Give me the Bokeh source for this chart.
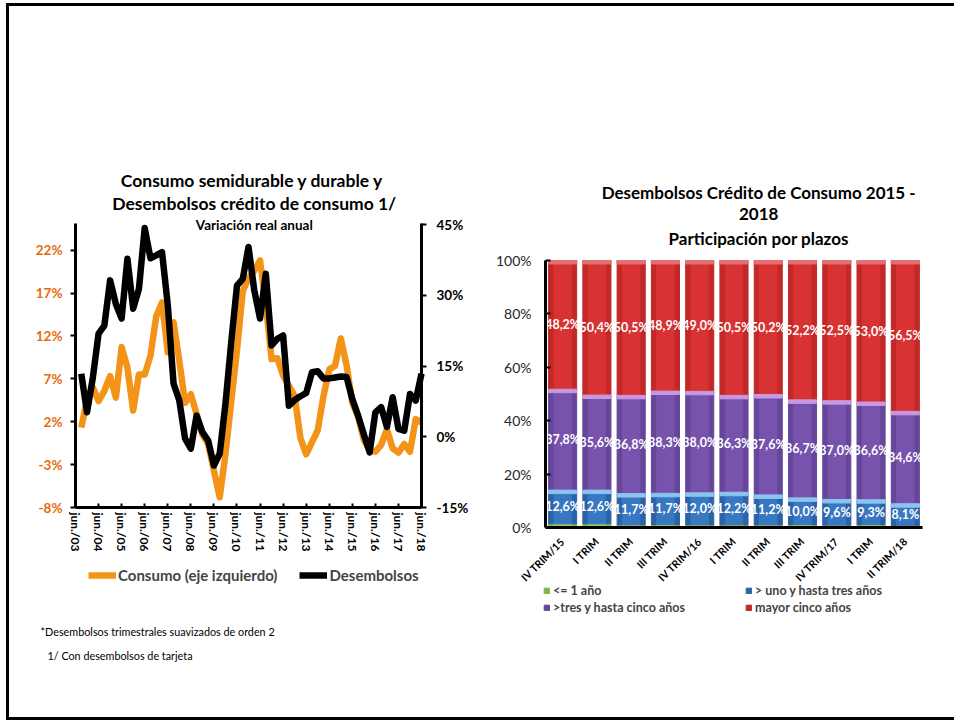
import numpy as np
from math import pi
from bokeh.plotting import figure
from bokeh.models import (Range1d, LinearAxis, FixedTicker, Legend, LegendItem,
                          Label, ColumnDataSource, Div)
from bokeh.layouts import row, column
from bokeh.embed import file_html
from bokeh.resources import INLINE
from bokeh.core.properties import value

FONT = "Lato"

# ---------------- Left chart data (quarterly, sep/03 .. jun/18) ----------------
consumo = [1.3, 4.6, 6.0, 4.4, 5.6, 7.3, 4.8, 10.7, 8.3, 3.3,
           7.5, 7.5, 9.7, 14.3, 15.9, 10.1, 13.6, 9.1, 4.2, 5.2,
           2.9, 0.5, -0.6, -3.7, -6.8, -1.8, 4.3, 10.3, 17.2, 18.7,
           19.6, 20.8, 15.7, 9.3, 9.4, 7.4, 6.2, 5.0, 0.1, -1.8,
           -0.4, 1.0, 5.0, 8.1, 8.5, 11.7, 8.6, 4.2, 2.6, -0.1,
           -1.3, -1.5, -0.7, 1.1, -1.1, -1.6, -0.6, -1.5, 2.3, 1.9]
desembolsos = [13.4, 5.2, 12.5, 21.9, 23.6, 33.2, 28.2, 25.1, 37.8, 27.2,
               31.4, 44.3, 37.9, 38.5, 39.2, 28.0, 11.3, 7.7, -0.4, -2.5,
               4.5, 1.0, -0.8, -6.1, -3.6, 7.0, 20.0, 32.1, 33.5, 40.3,
               31.1, 25.1, 34.6, 19.4, 20.8, 21.5, 6.6, 7.8, 8.6, 9.3,
               13.7, 13.9, 12.4, 12.4, 12.6, 12.8, 12.7, 8.0, 4.5, 0.5,
               -3.3, 5.2, 6.3, 2.1, 8.4, 1.7, 1.3, 9.1, 7.7, 13.4]
x_tick_labels = ["jun./03", "jun./04", "jun./05", "jun./06", "jun./07", "jun./08",
                 "jun./09", "jun./10", "jun./11", "jun./12", "jun./13", "jun./14",
                 "jun./15", "jun./16", "jun./17", "jun./18"]
left_ticks = [-8, -3, 2, 7, 12, 17, 22]
left_tick_labels = ["-8%", "-3%", "2%", "7%", "12%", "17%", "22%"]
right_ticks = [-15, 0, 15, 30, 45]
right_tick_labels = ["-15%", "0%", "15%", "30%", "45%"]

# ---------------- Right chart data ----------------
trimestres = ["IV TRIM/15", "I TRIM", "II TRIM", "III TRIM", "IV TRIM/16", "I TRIM",
              "II TRIM", "III TRIM", "IV TRIM/17", "I TRIM", "II TRIM/18"]
menor_1 = [1.4, 1.4, 1.0, 1.1, 1.0, 1.0, 1.0, 1.1, 0.9, 1.1, 0.8]
uno_tres = [12.6, 12.6, 11.7, 11.7, 12.0, 12.2, 11.2, 10.0, 9.6, 9.3, 8.1]
tres_cinco = [37.8, 35.6, 36.8, 38.3, 38.0, 36.3, 37.6, 36.7, 37.0, 36.6, 34.6]
mayor_5 = [48.2, 50.4, 50.5, 48.9, 49.0, 50.5, 50.2, 52.2, 52.5, 53.0, 56.5]
pct_ticks = [0, 20, 40, 60, 80, 100]
pct_tick_labels = ["0%", "20%", "40%", "60%", "80%", "100%"]
series_names = ["<= 1 año", "> uno y hasta tres años", ">tres y hasta cinco años", "mayor cinco años"]

ORANGE = "#F39419"
AXIS_ORANGE = "#E46C0A"
H = 721

# =============== LEFT FIGURE (frame = whole canvas) ===============
LW = 478
X_PX = 5.767      # px per quarter
L_PX = 8.58       # px per unit, left axis
R_PX = 4.712      # px per unit, right axis
X0, YB = 75, 507  # pixel position of x=0 and of the bottom axis
p1 = figure(width=LW, height=H, output_backend="svg", toolbar_location=None,
            x_range=Range1d(-X0 / X_PX, (LW - X0) / X_PX),
            y_range=Range1d(-8 - (H - YB) / L_PX, -8 + YB / L_PX),
            min_border=0)
p1.outline_line_color = None
p1.xgrid.visible = False
p1.ygrid.visible = False
p1.extra_y_ranges = {"r": Range1d(-15 - (H - YB) / R_PX, -15 + YB / R_PX)}

xq = np.arange(1, len(consumo) + 1)
r_c = p1.line(xq, consumo, line_color=ORANGE, line_width=6.5, line_join="round")
r_d = p1.line(xq, desembolsos, line_color="black", line_width=6.5, line_join="round",
              y_range_name="r")

xb = p1.xaxis[0]
xb.fixed_location = -8
xb.bounds = (0, 60)
xb.ticker = FixedTicker(ticks=[4 * k for k in range(len(x_tick_labels))])
xb.major_label_overrides = {4 * k: lab for k, lab in enumerate(x_tick_labels)}
xb.major_label_orientation = "vertical"
xb.major_label_text_font = FONT
xb.major_label_text_font_style = "bold"
xb.major_label_text_font_size = "12px"
xb.major_label_text_color = "black"
xb.axis_line_width = 3
xb.major_tick_in = 4
xb.major_tick_out = 0
xb.major_tick_line_width = 2
xb.minor_tick_line_color = None
xb.major_label_standoff = 5

yl = p1.yaxis[0]
yl.fixed_location = 0
yl.ticker = FixedTicker(ticks=left_ticks)
yl.bounds = (-8, 25.06)
yl.major_label_overrides = dict(zip(left_ticks, left_tick_labels))
yl.major_label_text_font = FONT
yl.major_label_text_font_style = "bold"
yl.major_label_text_font_size = "13.5px"
yl.major_label_text_color = AXIS_ORANGE
yl.axis_line_width = 3
yl.major_tick_in = 0
yl.major_tick_out = 5
yl.major_tick_line_width = 2
yl.minor_tick_line_color = None
yl.major_label_standoff = 8

yr = LinearAxis(y_range_name="r", ticker=FixedTicker(ticks=right_ticks),
                bounds=(-15, 45.27), fixed_location=60)
yr.major_label_overrides = dict(zip(right_ticks, right_tick_labels))
yr.major_label_text_font = FONT
yr.major_label_text_font_style = "bold"
yr.major_label_text_font_size = "13.5px"
yr.major_label_text_color = "black"
yr.axis_line_width = 3
yr.major_tick_in = 0
yr.major_tick_out = 5
yr.major_tick_line_width = 2
yr.minor_tick_line_color = None
yr.major_label_standoff = 10
p1.add_layout(yr, "right")

leg1 = Legend(items=[LegendItem(label="Consumo (eje izquierdo)", renderers=[r_c]),
                     LegendItem(label="Desembolsos", renderers=[r_d])],
              orientation="horizontal", location=(88, H - 585),
              label_text_font=FONT, label_text_font_style="bold",
              label_text_font_size="15px", glyph_width=28, glyph_height=20,
              label_standoff=2, spacing=22, padding=0, margin=0,
              border_line_color=None, background_fill_alpha=0)
p1.add_layout(leg1)

for txt, yy, size in [("Consumo semidurable y durable  y", 30.11, "17.5px"),
                      ("Desembolsos crédito de consumo 1/", 27.43, "17.5px"),
                      ("Variación real anual", 24.98, "13.5px")]:
    p1.add_layout(Label(x=31, y=yy, text=txt, text_font=FONT, text_font_style="bold",
                        text_font_size=size, text_align="center", text_baseline="middle",
                        text_color="black"))
for txt, xx, yy in [("*Desembolsos trimestrales suavizados de orden 2", -6.07, -22.47),
                    ("1/ Con desembolsos de tarjeta", -4.86, -25.3)]:
    p1.add_layout(Label(x=xx, y=yy, text=txt, text_font=FONT, text_font_size="10.8px",
                        text_align="left", text_baseline="middle", text_color="black"))

# =============== RIGHT FIGURE (frame = whole canvas) ===============
RW = 476
B_PX = 34.27      # px per bar slot
P_PX = 2.67       # px per percentage point
BX0, BY0 = 545 - LW, 527   # pixel position of x=-0.5 and of y=0
p2 = figure(width=RW, height=H, output_backend="svg", toolbar_location=None,
            x_range=Range1d(-0.5 - BX0 / B_PX, -0.5 + (RW - BX0) / B_PX),
            y_range=Range1d(-(H - BY0) / P_PX, BY0 / P_PX),
            min_border=0)
p2.outline_line_color = None
p2.xgrid.visible = False
p2.ygrid.visible = False

idx = np.arange(len(trimestres))
c1 = np.array(menor_1)
c2 = c1 + np.array(uno_tres)
c3 = c2 + np.array(tres_cinco)
c4 = c3 + np.array(mayor_5)
src = ColumnDataSource(dict(x=idx, g=menor_1, b=uno_tres, pu=tres_cinco, r=mayor_5))

outer = ["#7fb446", "#2c63a8", "#65469a", "#c22828"]
inner = ["#92c95a", "#3877c2", "#7753ad", "#d83232"]
light = ["#b8e08a", "#8cc4ee", "#c999e0", "#e47070"]
BW = 0.82
stack = p2.vbar_stack(["g", "b", "pu", "r"], x="x", width=BW, color=outer, source=src)
bottoms = [np.zeros(len(idx)), c1, c2, c3]
tops = [c1, c2, c3, c4]
for k in range(4):
    p2.vbar(x=idx, bottom=bottoms[k], top=tops[k], width=BW * 0.62, color=inner[k])
for k in range(1, 4):
    p2.vbar(x=idx, bottom=tops[k] - 1.3, top=tops[k], width=BW, color=light[k])

def fmt(v):
    return f"{v:.1f}".replace(".", ",") + "%"

for vals, lo, hi in [(uno_tres, c1, c2), (tres_cinco, c2, c3), (mayor_5, c3, c4)]:
    p2.text(x=idx, y=(lo + hi) / 2, text=[fmt(v) for v in vals], text_color="white",
            text_font=value(FONT), text_font_style="bold", text_font_size="12.5px",
            text_align="center", text_baseline="middle")

xa = p2.xaxis[0]
xa.fixed_location = 0
xa.bounds = (-0.5, 10.5)
xa.ticker = FixedTicker(ticks=list(idx))
xa.major_label_overrides = {int(i): lab for i, lab in zip(idx, trimestres)}
xa.major_label_orientation = pi / 4
xa.major_label_text_font = FONT
xa.major_label_text_font_style = "bold"
xa.major_label_text_font_size = "10.5px"
xa.major_label_text_color = "black"
xa.axis_line_width = 3
xa.major_tick_line_color = None
xa.minor_tick_line_color = None
xa.major_label_standoff = 6

ya = p2.yaxis[0]
ya.fixed_location = -0.5
ya.ticker = FixedTicker(ticks=pct_ticks)
ya.bounds = (0, 100)
ya.major_label_overrides = dict(zip(pct_ticks, pct_tick_labels))
ya.major_label_text_font = FONT
ya.major_label_text_font_size = "14px"
ya.major_label_text_color = "#262626"
ya.axis_line_width = 3
ya.major_tick_in = 5
ya.major_tick_out = 0
ya.major_tick_line_width = 2
ya.minor_tick_line_color = None
ya.major_label_standoff = 14

leg2 = Legend(items=[LegendItem(label=n, renderers=[r]) for n, r in zip(series_names, stack)],
              orientation="horizontal", ncols=2, location=(543 - LW, H - 615),
              label_text_font=FONT, label_text_font_style="bold",
              label_text_font_size="12.5px", glyph_width=7, glyph_height=7,
              label_standoff=3, label_width=190, label_height=13, spacing=2,
              padding=0, margin=0, border_line_color=None, background_fill_alpha=0)
p2.add_layout(leg2)

for txt, yy in [("Desembolsos Crédito de Consumo 2015 -", 125.47),
                ("2018", 117.23),
                ("Participación por plazos", 108.24)]:
    p2.add_layout(Label(x=5.72, y=yy, text=txt, text_font=FONT, text_font_style="bold",
                        text_font_size="17px", text_align="center", text_baseline="middle",
                        text_color="black"))

frame_box = Div(text="", styles={"position": "fixed", "left": "1px", "top": "-2px",
                                 "width": "1000px", "height": "717px",
                                 "border": "3px solid black", "box-sizing": "border-box",
                                 "pointer-events": "none"})

layout = column(row(p1, p2), frame_box)

open("out.html", "w").write(file_html(layout, INLINE))
